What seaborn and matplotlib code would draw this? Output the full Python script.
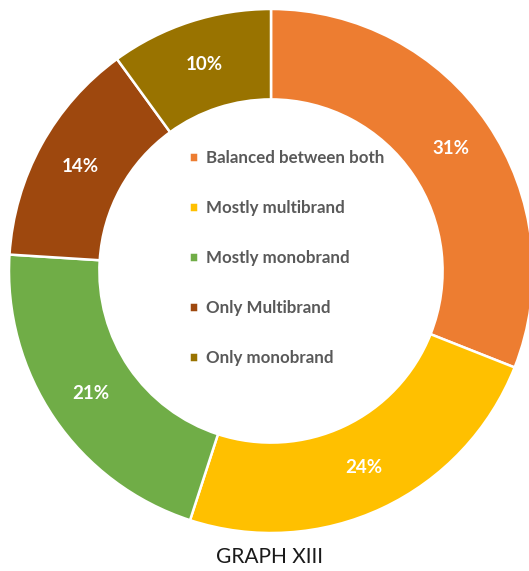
import matplotlib
matplotlib.use("Agg")
import matplotlib.pyplot as plt
import seaborn as sns

categories = ["Balanced between both", "Mostly multibrand", "Mostly monobrand",
              "Only Multibrand", "Only monobrand"]
shares = [31, 24, 21, 14, 10]
colors = ["#ED7D31", "#FFC000", "#70AD47", "#9E480E", "#997300"]
title = "GRAPH XIII"

sns.set_theme(style="white")
plt.rcParams["font.family"] = ["Lato", "DejaVu Sans"]

W, H = 529, 571
fig = plt.figure(figsize=(W / 100, H / 100), dpi=100)
cx, cy, R = 271, 271, 262
ax = fig.add_axes([(cx - R) / W, (H - cy - R) / H, 2 * R / W, 2 * R / H])

wedges, _, autotexts = ax.pie(
    shares, colors=colors, startangle=90, counterclock=False,
    radius=1.0, autopct=lambda p: f"{p:.0f}%", pctdistance=0.83,
    wedgeprops=dict(width=0.345, edgecolor="white", linewidth=1.8),
    textprops=dict(color="white", fontsize=13.5, fontweight="bold"),
)
ax.set_xlim(-1, 1)
ax.set_ylim(-1, 1)
ax.set_aspect("equal")
ax.axis("off")

# legend stacked inside the ring
leg = fig.legend(wedges, categories, loc="center left",
                 bbox_to_anchor=(189 / W, 1 - 258 / H),
                 frameon=False, borderpad=0, borderaxespad=0,
                 handlelength=0.55, handleheight=0.55,
                 handletextpad=0.45, labelspacing=2.0, fontsize=12.2)
for t in leg.get_texts():
    t.set_color("#595959")
    t.set_fontweight("bold")

fig.text(270 / W, 1 - 557 / H, title, ha="center", va="center",
         fontsize=15, color="#1a1a1a")

fig.savefig("out.png", dpi=100)
